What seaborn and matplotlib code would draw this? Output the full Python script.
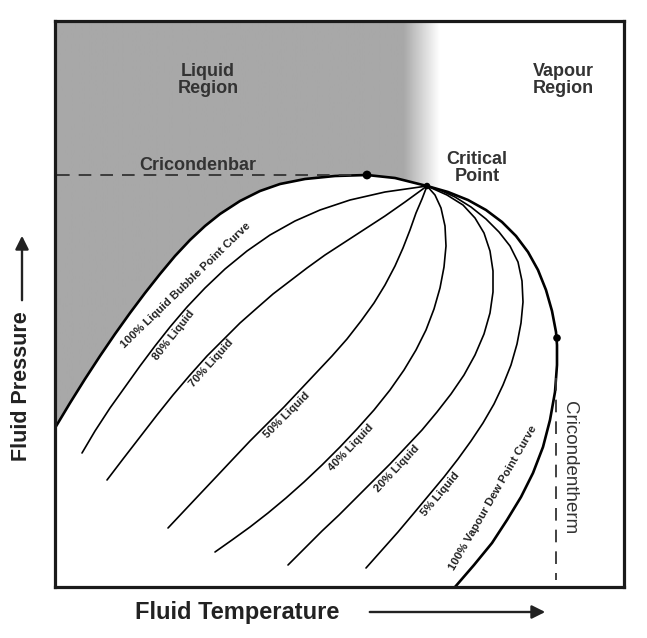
import numpy as np
import pandas as pd
import matplotlib
matplotlib.use("Agg")
import matplotlib.pyplot as plt
from matplotlib.patches import Polygon
import seaborn as sns

# Curve traces (image pixel coordinates, y grows downward)
critical = (427, 186)
cricondenbar = (367, 175)
cricondentherm = (557, 338)

bubble_x = [55, 70, 85, 100, 115, 130, 145, 160, 175, 190, 205, 220, 240, 260, 280, 305, 335, 367, 395, 427]
bubble_y = [428, 403, 379, 356, 334, 313, 293, 274, 256, 240, 226, 214, 201, 191, 184, 179, 176, 175, 178, 186]

liq80_x = [82, 95, 110, 125, 140, 155, 170, 187, 205, 225, 247, 270, 295, 320, 350, 385, 427]
liq80_y = [453, 431, 408, 387, 366, 346, 327, 307, 288, 269, 251, 235, 221, 210, 200, 192, 186]

liq70_x = [107, 123, 140, 157, 173, 190, 207, 224, 240, 257, 273, 290, 307, 325, 345, 365, 385, 405, 427]
liq70_y = [480, 459, 437, 415, 395, 375, 356, 339, 323, 308, 294, 281, 268, 255, 242, 229, 216, 202, 186]

liq50_x = [168, 184, 200, 217, 233, 250, 267, 284, 300, 316, 332, 347, 361, 374, 385, 395, 403, 410, 416, 422, 427]
liq50_y = [528, 511, 494, 476, 459, 441, 424, 407, 390, 373, 356, 339, 321, 303, 285, 266, 248, 230, 213, 199, 186]

liq40_x = [215, 232, 250, 268, 286, 304, 322, 340, 357, 374, 390, 404, 416, 426, 434, 440, 444, 446, 445, 441, 435, 427]
liq40_y = [552, 540, 527, 513, 498, 482, 465, 447, 429, 410, 390, 370, 350, 330, 309, 288, 267, 246, 226, 208, 195, 186]

liq20_x = [288, 305, 322, 339, 356, 373, 390, 406, 422, 437, 451, 464, 475, 484, 490, 493, 493, 490, 484, 475, 463, 447, 427]
liq20_y = [565, 548, 531, 515, 498, 481, 464, 447, 430, 412, 394, 375, 355, 334, 313, 292, 271, 251, 233, 218, 205, 195, 186]

liq5_x = [366, 382, 398, 414, 429, 444, 458, 471, 483, 494, 503, 511, 517, 521, 523, 522, 518, 510, 499, 486, 471, 455, 440, 427]
liq5_y = [568, 550, 532, 513, 495, 477, 459, 441, 423, 404, 385, 365, 344, 323, 302, 281, 262, 246, 232, 219, 207, 197, 190, 186]

dew_x = [427, 448, 468, 486, 502, 516, 528, 538, 546, 552, 556, 557, 557, 555, 550, 543, 533, 521, 507, 492, 474, 455]
dew_y = [186, 192, 200, 210, 222, 236, 252, 270, 290, 311, 332, 345, 365, 392, 420, 447, 473, 497, 520, 543, 565, 587]

quality_lines = {
    "80% Liquid": (liq80_x, liq80_y),
    "70% Liquid": (liq70_x, liq70_y),
    "50% Liquid": (liq50_x, liq50_y),
    "40% Liquid": (liq40_x, liq40_y),
    "20% Liquid": (liq20_x, liq20_y),
    "5% Liquid": (liq5_x, liq5_y),
}

# label, curve, x where the label sits (placed just below-right of its line)
line_labels = [
    ("80% Liquid", (liq80_x, liq80_y), 167),
    ("70% Liquid", (liq70_x, liq70_y), 205),
    ("50% Liquid", (liq50_x, liq50_y), 281),
    ("40% Liquid", (liq40_x, liq40_y), 345),
    ("20% Liquid", (liq20_x, liq20_y), 391),
    ("5% Liquid", (liq5_x, liq5_y), 434),
]
# envelope labels: text, centre x, centre y, angle
envelope_labels = [
    ("100% Liquid Bubble Point Curve", 186, 285, 44),
    ("100% Vapour Dew Point Curve", 493, 498, 60),
]

sns.set_style("white")
plt.rcParams["font.family"] = ["Liberation Sans", "DejaVu Sans"]

W, H = 647, 638
x0, x1, y_top, y_bot = 55, 624, 21, 587
fig = plt.figure(figsize=(W / 100, H / 100), dpi=100)
ax = fig.add_axes([x0 / W, (H - y_bot) / H, (x1 - x0) / W, (y_bot - y_top) / H])
ax.set_xlim(x0, x1)
ax.set_ylim(y_bot, y_top)
ax.set_xticks([])
ax.set_yticks([])
for s in ax.spines.values():
    s.set_linewidth(2.3)
    s.set_color("#1a1a1a")

# grey liquid region fading out to white near the critical point
grad = np.clip((440 - np.linspace(x0, x1, 600)) / 36.0, 0, 1)
grey = 1 - grad * (1 - 0.66)
img = ax.imshow(grey[np.newaxis, :], cmap="gray", vmin=0, vmax=1, aspect="auto",
                extent=[x0, x1, y_bot, y_top], zorder=0)
poly_pts = [(x0, y_top)] + list(zip(bubble_x, bubble_y)) + \
    list(zip(dew_x[:4], dew_y[:4])) + [(dew_x[3], y_top)]
clip = Polygon(poly_pts, closed=True, transform=ax.transData, facecolor="none", edgecolor="none")
ax.add_patch(clip)
img.set_clip_path(clip)

# envelope and quality lines
sns.lineplot(x=bubble_x, y=bubble_y, sort=False, estimator=None, color="black", lw=1.9, ax=ax)
sns.lineplot(x=dew_x, y=dew_y, sort=False, estimator=None, color="black", lw=1.9, ax=ax)
for name, (qx, qy) in quality_lines.items():
    sns.lineplot(x=qx, y=qy, sort=False, estimator=None, color="black", lw=1.2, ax=ax)

# cricondenbar / cricondentherm guides
ax.plot([x0 + 2, cricondenbar[0] - 12], [cricondenbar[1]] * 2, ls=(0, (7, 5)), color="#333333", lw=1.3)
ax.plot([cricondentherm[0] - 1] * 2, [378, 580], ls=(0, (7, 5)), color="#333333", lw=1.3)

pts = pd.DataFrame({"x": [cricondenbar[0], critical[0], cricondentherm[0]],
                    "y": [cricondenbar[1], critical[1], cricondentherm[1]]})
sns.scatterplot(data=pts, x="x", y="y", color="black", s=[40, 22, 30], edgecolor="none", ax=ax, zorder=5)
ax.set_xlabel("")
ax.set_ylabel("")


def label_on_curve(text, xs, ys, x_at, gap=8):
    # place text along the segment of the curve that spans x_at
    for i in range(len(xs) - 1):
        xa, xb = xs[i], xs[i + 1]
        if xa <= x_at <= xb:
            t = (x_at - xa) / (xb - xa)
            py = ys[i] + t * (ys[i + 1] - ys[i])
            ang = np.degrees(np.arctan2(ys[i] - ys[i + 1], xb - xa))
            a = np.radians(ang)
            ax.text(x_at + gap * np.sin(a), py + gap * np.cos(a), text, rotation=ang,
                    rotation_mode="anchor", ha="center", va="center",
                    fontsize=8.2, fontweight="bold", color="#222222")
            return


for txt, (cxs, cys), xat in line_labels:
    label_on_curve(txt, cxs, cys, xat)
for txt, cx, cy, ang in envelope_labels:
    ax.text(cx, cy, txt, rotation=ang, rotation_mode="anchor", ha="center", va="center",
            fontsize=8.2, fontweight="bold", color="#222222")

ax.text(208, 80, "Liquid\nRegion", ha="center", va="center", fontsize=13, fontweight="bold",
        color="#333333", linespacing=0.95)
ax.text(563, 80, "Vapour\nRegion", ha="center", va="center", fontsize=13, fontweight="bold",
        color="#333333", linespacing=0.95)
ax.text(477, 168, "Critical\nPoint", ha="center", va="center", fontsize=13, fontweight="bold",
        color="#333333", linespacing=0.95)
ax.text(198, 165, "Cricondenbar", ha="center", va="center", fontsize=13, fontweight="bold",
        color="#333333")
ax.text(570, 468, "Cricondentherm", ha="center", va="center", rotation=-90, fontsize=13.5,
        color="#333333")

# axis captions with arrows, outside the frame
ax.text(237, 612, "Fluid Temperature", ha="center", va="center", fontsize=17, fontweight="bold",
        color="#222222", clip_on=False)
ax.annotate("", xy=(548, 612), xytext=(367, 612), xycoords="data", annotation_clip=False,
            arrowprops=dict(arrowstyle="-|>", color="#222222", lw=1.7, mutation_scale=20))
ax.text(22, 386, "Fluid Pressure", ha="center", va="center", rotation=90, fontsize=15.5,
        fontweight="bold", color="#222222", clip_on=False)
ax.annotate("", xy=(22, 233), xytext=(22, 303), xycoords="data", annotation_clip=False,
            arrowprops=dict(arrowstyle="-|>", color="#222222", lw=1.7, mutation_scale=20))

fig.savefig("out.png", dpi=100)
